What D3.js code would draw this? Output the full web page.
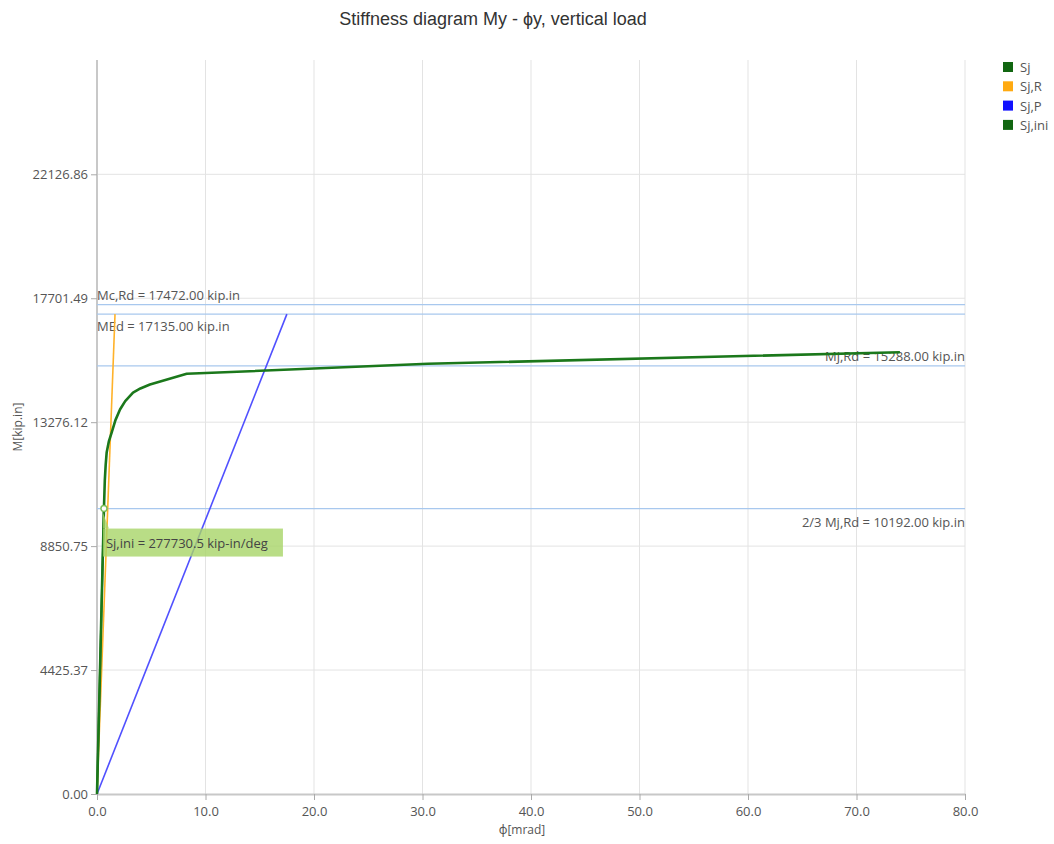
<!DOCTYPE html>
<html>
<head>
<meta charset="utf-8">
<script src="https://cdn.jsdelivr.net/npm/d3@7"></script>
<style>
  body { margin: 0; background: #fff; }
  text { font-family: "Open Sans", "Noto Sans", sans-serif; }
</style>
</head>
<body>
<div id="chart"></div>
<script>
// data
var sjPhi = [0, 0.64, 0.72, 0.8, 0.89, 1.1, 1.35, 1.7, 2.12, 2.6, 3.32, 4.0, 4.88, 8.27, 30.5, 74.0];
var sjM   = [0, 10192, 11200, 11750, 12190, 12600, 12905, 13350, 13727, 14030, 14334, 14480, 14620, 15003, 15360, 15775];
var sjRPhi = [0, 1.66], sjRM = [0, 17135];
var sjPPhi = [0, 17.5], sjPM = [0, 17135];
var sjIniPhi = [0, 0.64], sjIniM = [0, 10192];
var xTicks = [0, 10, 20, 30, 40, 50, 60, 70, 80];
var yTicks = [0, 4425.37, 8850.75, 13276.12, 17701.49, 22126.86];
var refNames  = ["Mc,Rd", "MEd", "Mj,Rd", "2/3 Mj,Rd"];
var refValues = [17472, 17135, 15288, 10192];
var legendNames = ["Sj", "Sj,R", "Sj,P", "Sj,ini"];
var legendColors = ["#116611", "#ffaa11", "#1111ff", "#116611"];
var sjIniLabel = "Sj,ini = 277730.5 kip-in/deg";

var W = 1054, H = 844;
var margin = {top: 60, right: 89, bottom: 50, left: 97},
    width  = W - margin.left - margin.right,
    height = H - margin.top - margin.bottom;

var svg = d3.select("#chart").append("svg")
    .attr("width", W)
    .attr("height", H);

svg.append("text")
    .attr("x", 493).attr("y", 25)
    .attr("text-anchor", "middle")
    .style("font-family", "'Liberation Sans', Arial, sans-serif")
    .style("font-size", "18px")
    .style("fill", "#333")
    .text("Stiffness diagram My - \u03d5y, vertical load");

var g = svg.append("g")
    .attr("transform", "translate(" + margin.left + "," + margin.top + ")");

var x = d3.scaleLinear().domain([0, 80]).range([0, width]);
var y = d3.scaleLinear().domain([0, 26208]).range([height, 0]);

// grid
g.selectAll(".vgrid").data(xTicks.slice(1)).enter().append("line")
    .attr("x1", function(d) { return x(d); }).attr("x2", function(d) { return x(d); })
    .attr("y1", 0).attr("y2", height)
    .style("stroke", "#e3e3e3").style("stroke-width", 1);
g.selectAll(".hgrid").data(yTicks.slice(1)).enter().append("line")
    .attr("x1", 0).attr("x2", width)
    .attr("y1", function(d) { return y(d); }).attr("y2", function(d) { return y(d); })
    .style("stroke", "#e3e3e3").style("stroke-width", 1);

// axes
var xAxis = g.append("g")
    .attr("transform", "translate(0," + height + ")")
    .call(d3.axisBottom(x).tickValues(xTicks).tickFormat(d3.format(".1f")).tickSizeOuter(0));
var yAxis = g.append("g")
    .call(d3.axisLeft(y).tickValues(yTicks).tickFormat(d3.format(".2f")).tickSizeOuter(0));
[xAxis, yAxis].forEach(function(a) {
  a.select(".domain").style("stroke", "#c8c8c8").style("stroke-width", 2);
  a.selectAll(".tick line").style("stroke", "#aaa");
  a.selectAll(".tick text").style("fill", "#555").style("font-size", "13px")
    .style("font-family", "'Open Sans', sans-serif");
});
xAxis.selectAll(".tick text").attr("dy", "1.0em");
yAxis.select(".domain").attr("d", "M0," + height + "V0");

g.append("text")
    .attr("x", width / 2 - 9).attr("y", height + 40)
    .attr("text-anchor", "middle")
    .style("font-size", "12px").style("fill", "#555")
    .text("\u03d5[mrad]");
g.append("text")
    .attr("transform", "translate(" + (-75) + "," + (height / 2) + ") rotate(-90)")
    .attr("text-anchor", "middle")
    .style("font-size", "12px").style("fill", "#555")
    .text("M[kip.in]");

// reference lines
g.selectAll(".ref").data(refValues).enter().append("line")
    .attr("x1", 0).attr("x2", width)
    .attr("y1", function(d) { return y(d); }).attr("y2", function(d) { return y(d); })
    .style("stroke", "#a8c8ee").style("stroke-width", 1.3);

var refLabelPos = [
  {anchor: "start", dy: -5, xx: 0},
  {anchor: "start", dy: 17, xx: 0},
  {anchor: "end", dy: -5, xx: width},
  {anchor: "end", dy: 18, xx: width}
];
g.selectAll(".refLabel").data(refValues).enter().append("text")
    .attr("x", function(d, i) { return refLabelPos[i].xx; })
    .attr("y", function(d, i) { return y(d) + refLabelPos[i].dy; })
    .attr("text-anchor", function(d, i) { return refLabelPos[i].anchor; })
    .style("font-size", "13px").style("fill", "#555")
    .text(function(d, i) { return refNames[i] + " = " + d3.format(".2f")(d) + " kip.in"; });

function draw(phi, m, color, w) {
  var line = d3.line()
    .x(function(d) { return x(d[0]); })
    .y(function(d) { return y(d[1]); });
  g.append("path")
    .datum(d3.zip(phi, m))
    .attr("d", line)
    .style("fill", "none")
    .style("stroke", color)
    .style("stroke-width", w)
    .style("stroke-linejoin", "round");
}
draw(sjPPhi, sjPM, "#5050ff", 1.6);
draw(sjRPhi, sjRM, "#ffb22a", 1.6);
draw(sjPhi, sjM, "#1b781b", 2.6);
draw(sjIniPhi, sjIniM, "#1b781b", 2);

// Sj,ini marker + label
var mx = x(sjIniPhi[1]), my = y(sjIniM[1]);
g.append("rect")
    .attr("x", mx - 1).attr("y", my + 20)
    .attr("width", 180).attr("height", 28)
    .style("fill", "#a8d468").style("opacity", 0.8);
g.append("path")
    .attr("d", "M" + (mx - 1) + "," + (my + 4) + "L" + (mx + 5) + "," + (my + 20) + "L" + (mx - 1) + "," + (my + 20) + "Z")
    .style("fill", "#a8d468").style("opacity", 0.8);
g.append("text")
    .attr("x", mx + 2).attr("y", my + 39)
    .style("font-size", "13px").style("fill", "#444")
    .text(sjIniLabel);
g.append("circle")
    .attr("cx", mx).attr("cy", my).attr("r", 3)
    .style("fill", "#fff").style("stroke", "#7cbf5a").style("stroke-width", 1.5);

// legend
var legend = svg.append("g").attr("transform", "translate(1003,62)");
legendNames.forEach(function(n, i) {
  legend.append("rect")
    .attr("x", 0).attr("y", i * 19.3)
    .attr("width", 10).attr("height", 10)
    .style("fill", legendColors[i]);
  legend.append("text")
    .attr("x", 17).attr("y", i * 19.3 + 10)
    .style("font-size", "13px").style("fill", "#555")
    .text(n);
});
</script>
</body>
</html>
